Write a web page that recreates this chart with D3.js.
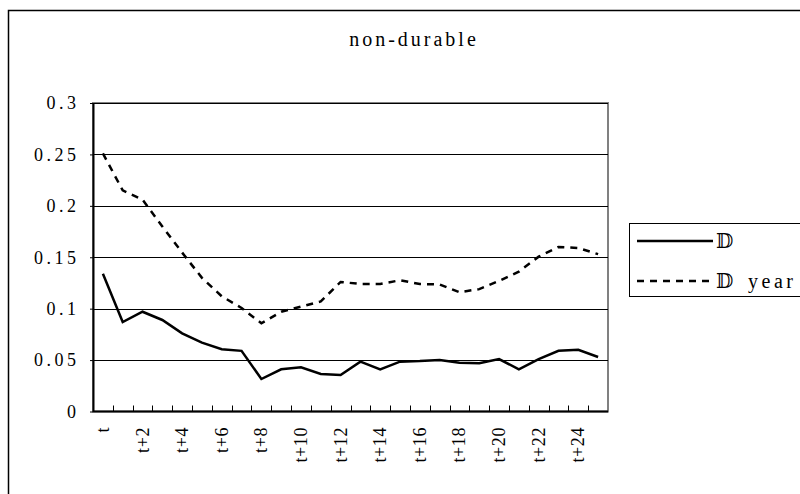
<!DOCTYPE html>
<html>
<head>
<meta charset="utf-8">
<script src="https://cdn.jsdelivr.net/npm/d3@7"></script>
<style>
  body { margin: 0; background: #fff; }
</style>
</head>
<body>
<svg id="chart" width="800" height="494"></svg>
<script>
// non-durable: two series over t .. t+25

const periods = d3.range(26).map(i => i === 0 ? "t" : `t+${i}`);

const seriesD = [0.134, 0.087, 0.097, 0.089, 0.076, 0.067, 0.0605, 0.059, 0.0316, 0.041,
    0.043, 0.0365, 0.0355, 0.0485, 0.041, 0.0485, 0.049, 0.050, 0.0475, 0.047,
    0.051, 0.041, 0.051, 0.059, 0.060, 0.053];

const seriesDYear = [0.251, 0.215, 0.206, 0.180, 0.1545, 0.130, 0.112, 0.1007, 0.0858, 0.097,
    0.102, 0.107, 0.126, 0.124, 0.124, 0.1276, 0.124, 0.1235, 0.116, 0.119,
    0.127, 0.136, 0.1506, 0.160, 0.159, 0.153];

const yTicks = [0, 0.05, 0.1, 0.15, 0.2, 0.25, 0.3];
const seriesNames = ["\u{1D53B}", "\u{1D53B} year"];

const serif = "'Liberation Serif', 'DejaVu Serif', serif";

const svg = d3.select("#chart");

const plot = { left: 93, right: 608, top: 103, bottom: 411.5 };

// outer chart border (runs off the right/bottom edge)
svg.append("rect")
    .attr("x", 8.5).attr("y", 10.5)
    .attr("width", 820).attr("height", 500)
    .attr("fill", "none")
    .attr("stroke", "#000")
    .attr("stroke-width", 1.5);

const x = d3.scaleBand()
    .domain(periods)
    .range([plot.left, plot.right]);

const y = d3.scaleLinear()
    .domain([0, 0.3])
    .range([plot.bottom, plot.top]);

// plot area frame (grey)
svg.append("rect")
    .attr("x", plot.left).attr("y", plot.top)
    .attr("width", plot.right - plot.left)
    .attr("height", plot.bottom - plot.top)
    .attr("fill", "none")
    .attr("stroke", "#808080")
    .attr("stroke-width", 2);

// gridlines
svg.append("g")
    .selectAll("line")
    .data(yTicks.filter(d => d > 0))
    .enter().append("line")
    .attr("x1", plot.left).attr("x2", plot.right)
    .attr("y1", d => Math.round(y(d)) + 0.5)
    .attr("y2", d => Math.round(y(d)) + 0.5)
    .attr("stroke", "#000")
    .attr("stroke-width", 1);

// y axis
const yAxis = svg.append("g")
    .attr("transform", `translate(${plot.left},0)`)
    .call(d3.axisLeft(y).tickValues(yTicks).tickSize(3).tickSizeOuter(0).tickPadding(10.5)
        .tickFormat(d => String(+d.toFixed(2))));
yAxis.select(".domain").attr("stroke", "#000").attr("stroke-width", 2);
yAxis.selectAll(".tick line").attr("stroke", "#000");
yAxis.selectAll(".tick text")
    .attr("fill", "#000")
    .style("font-family", serif)
    .style("font-size", "18px")
    .style("letter-spacing", "3.5px");

// x axis: ticks between categories, pointing inward
const xAxisG = svg.append("g");
xAxisG.append("line")
    .attr("x1", plot.left).attr("x2", plot.right)
    .attr("y1", plot.bottom).attr("y2", plot.bottom)
    .attr("stroke", "#000").attr("stroke-width", 2);
xAxisG.selectAll(".tk")
    .data(periods.slice(1))
    .enter().append("line")
    .attr("class", "tk")
    .attr("x1", d => Math.round(x(d)) + 0.5)
    .attr("x2", d => Math.round(x(d)) + 0.5)
    .attr("y1", plot.bottom).attr("y2", plot.bottom - 6)
    .attr("stroke", "#000");
xAxisG.selectAll(".lbl")
    .data(periods.filter((d, i) => i % 2 === 0 && i <= 24))
    .enter().append("text")
    .attr("class", "lbl")
    .attr("transform", d => `translate(${x(d) + x.bandwidth() / 2 + 6},427) rotate(-90)`)
    .attr("text-anchor", "end")
    .style("font-family", serif)
    .style("font-size", "18px")
    .style("letter-spacing", "0.6px")
    .text(d => d);

// lines
const line = d3.line()
    .x((d, i) => x(periods[i]) + x.bandwidth() / 2)
    .y(d => y(d));

svg.append("path")
    .datum(seriesDYear)
    .attr("d", line)
    .attr("fill", "none")
    .attr("stroke", "#000")
    .attr("stroke-width", 2.5)
    .attr("stroke-dasharray", "7,6");

svg.append("path")
    .datum(seriesD)
    .attr("d", line)
    .attr("fill", "none")
    .attr("stroke", "#000")
    .attr("stroke-width", 2.5);

// title (centred on the whole chart object, which runs past the window)
svg.append("text")
    .attr("x", 414).attr("y", 46)
    .attr("text-anchor", "middle")
    .style("font-family", serif)
    .style("font-size", "20px")
    .style("letter-spacing", "3px")
    .text("non-durable");

// legend
const legend = svg.append("g");
legend.append("rect")
    .attr("x", 629.5).attr("y", 223.5)
    .attr("width", 200).attr("height", 73)
    .attr("fill", "#fff")
    .attr("stroke", "#000")
    .attr("stroke-width", 1);

const legendRows = [
    { name: seriesNames[0], dash: null, y: 241 },
    { name: seriesNames[1], dash: "7,6", y: 281 }
];
legendRows.forEach(r => {
    legend.append("line")
        .attr("x1", 637).attr("x2", 713)
        .attr("y1", r.y).attr("y2", r.y)
        .attr("stroke", "#000")
        .attr("stroke-width", 2.5)
        .attr("stroke-dasharray", r.dash);
    const [mark, ...rest] = r.name.split(" ");
    const t = legend.append("text")
        .attr("y", r.y + 7)
        .style("font-family", serif)
        .style("font-size", "20px");
    t.append("tspan")
        .attr("x", 716)
        .style("font-family", "'DejaVu Serif', 'DejaVu Sans', serif")
        .style("font-weight", "normal")
        .text(mark);
    if (rest.length) {
        t.append("tspan")
            .attr("x", 748)
            .style("letter-spacing", "3.5px")
            .text(rest.join(" "));
    }
});
</script>
</body>
</html>
